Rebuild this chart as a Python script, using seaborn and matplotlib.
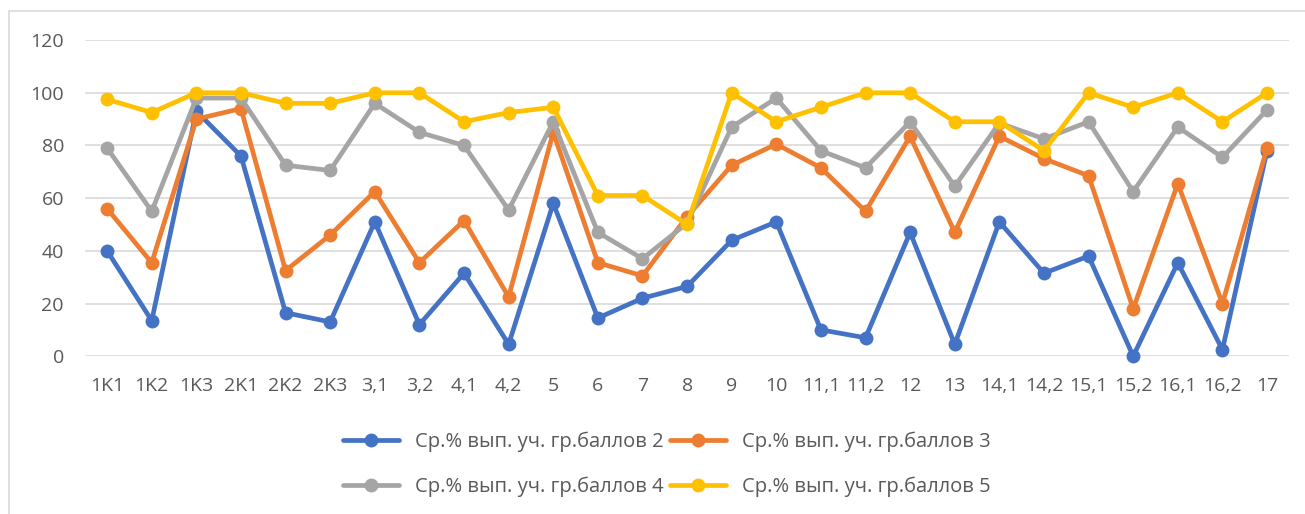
import matplotlib
matplotlib.use("Agg")
import matplotlib.pyplot as plt
import seaborn as sns
import pandas as pd
from matplotlib.patches import Rectangle

categories = ["1K1", "1K2", "1K3", "2K1", "2K2", "2K3", "3,1", "3,2", "4,1", "4,2",
              "5", "6", "7", "8", "9", "10", "11,1", "11,2", "12", "13",
              "14,1", "14,2", "15,1", "15,2", "16,1", "16,2", "17"]

score_2 = [40, 13.5, 93, 76, 16.5, 13, 51, 12, 31.5, 4.5,
           58, 14.5, 22, 26.5, 44, 51, 10, 7, 47, 4.5,
           51, 31.5, 38, 0, 35.5, 2.5, 78]
score_3 = [56, 35.5, 90, 94, 32.5, 46, 62.5, 35.5, 51.5, 22.5,
           85, 35.5, 30.5, 53, 72.5, 80.5, 71.5, 55, 83.5, 47,
           83.5, 75, 68.5, 18, 65.5, 20, 79]
score_4 = [79, 55, 98, 98, 72.5, 70.5, 96, 85, 80, 55.5,
           89, 47, 37, 50.5, 87, 98, 78, 71.5, 89, 64.5,
           88.5, 82.5, 89, 62.5, 87, 75.5, 93.5]
score_5 = [97.5, 92.5, 100, 100, 96, 96, 100, 100, 89, 92.5,
           94.5, 61, 61, 50, 100, 89, 94.5, 100, 100, 89,
           89, 78, 100, 94.5, 100, 89, 100]

series_names = ["Ср.% вып. уч. гр.баллов 2", "Ср.% вып. уч. гр.баллов 3",
                "Ср.% вып. уч. гр.баллов 4", "Ср.% вып. уч. гр.баллов 5"]
colors = ["#4472C4", "#ED7D31", "#A5A5A5", "#FFC000"]

frames = []
for name, vals in zip(series_names, [score_2, score_3, score_4, score_5]):
    frames.append(pd.DataFrame({"idx": range(len(categories)), "value": vals, "series": name}))
df = pd.concat(frames, ignore_index=True)

sns.set_theme(style="white")
plt.rcParams["font.family"] = ["Open Sans", "DejaVu Sans"]

fig = plt.figure(figsize=(13.05, 5.14), dpi=100)
ax = fig.add_axes([0.065, 0.307, 0.923, 0.615])

sns.lineplot(data=df, x="idx", y="value", hue="series", palette=colors,
             marker="o", markersize=10, markeredgewidth=0, linewidth=3.4,
             ax=ax, legend=True, clip_on=False, zorder=3)

ax.set_xlim(-0.5, len(categories) - 0.5)
ax.set_ylim(0, 120)
ax.set_yticks(range(0, 121, 20))
ax.set_xticks(range(len(categories)))
ax.set_xticklabels(categories)
ax.tick_params(axis="x", labelsize=14, colors="#595959", length=0, pad=15)
ax.tick_params(axis="y", labelsize=14, colors="#595959", length=0, pad=15)
ax.grid(axis="y", color="#D9D9D9", linewidth=1.2)
ax.set_axisbelow(True)
for s in ax.spines.values():
    s.set_visible(False)
ax.set_xlabel("")
ax.set_ylabel("")

# row-major order like the original: 2, 3 / 4, 5
handles, labels = ax.get_legend_handles_labels()
order = [0, 2, 1, 3]
ax.legend_.remove()
leg = fig.legend([handles[i] for i in order], [labels[i] for i in order],
                 ncol=2, loc="center", bbox_to_anchor=(0.511, 0.097),
                 frameon=False, fontsize=14.5, handlelength=2.75, columnspacing=0.35,
                 labelspacing=1.2, handletextpad=0.8)
for t in leg.get_texts():
    t.set_color("#595959")

# chart frame (top-left corner visible, rest runs off the image)
fig.patches.append(Rectangle((9 / 1305, -0.05), 1.1, 0.05 + 1 - 11 / 514,
                             transform=fig.transFigure, fill=False,
                             edgecolor="#D9D9D9", linewidth=1.2))

fig.savefig("out.png", dpi=100)
